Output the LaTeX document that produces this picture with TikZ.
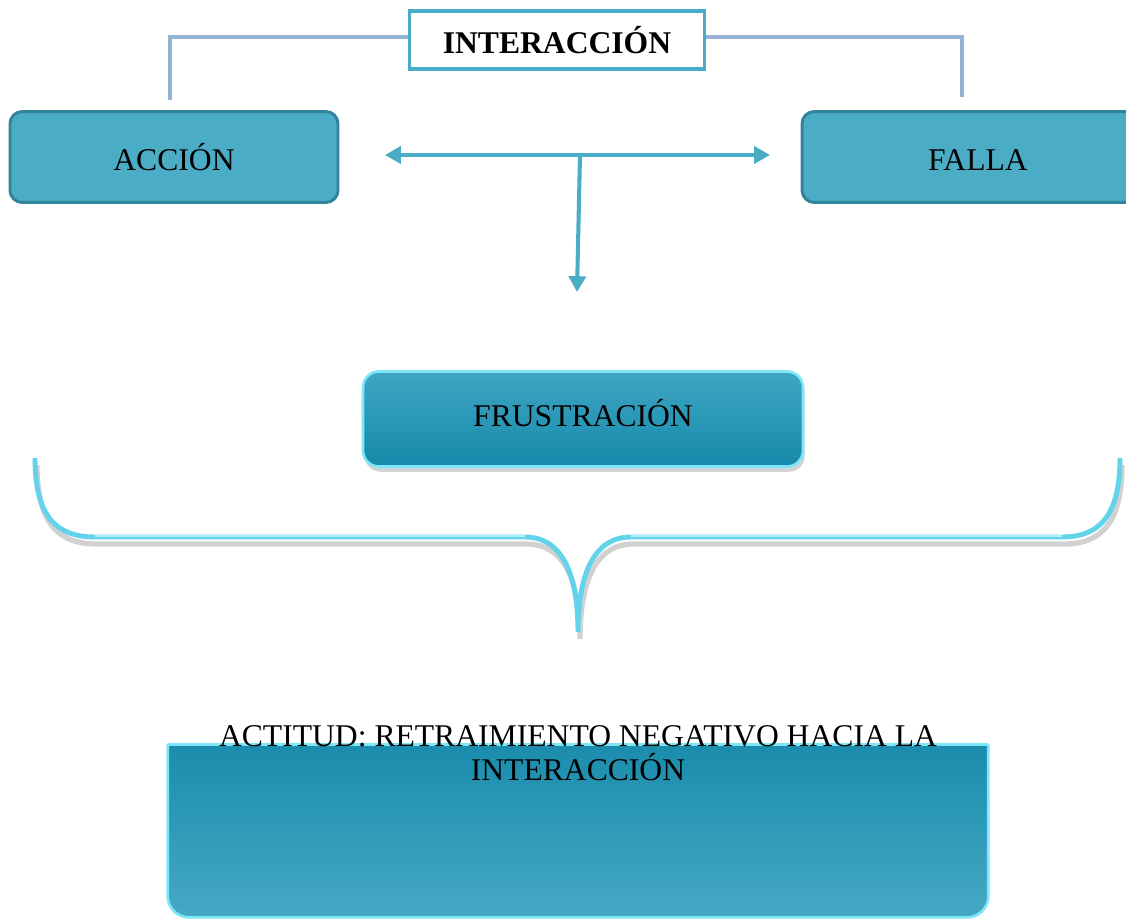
\documentclass[tikz,border=0pt]{standalone}
\usepackage{fontspec}
\setmainfont{Liberation Serif}
\usetikzlibrary{arrows.meta,positioning,shadows,calc}
\definecolor{turquesa}{HTML}{4BACC6}
\definecolor{turquesaosc}{HTML}{31849B}
\definecolor{azulgris}{HTML}{95B3D7}
\definecolor{cian}{HTML}{7DE6F8}
\definecolor{cianllave}{HTML}{62D3EA}
\definecolor{petroleo}{HTML}{1689AA}
\definecolor{petroleoclaro}{HTML}{45A9C4}
\definecolor{frusarriba}{HTML}{3FA6C3}

\begin{document}
\begin{tikzpicture}[x=0.02cm,y=-0.02cm,font=\fontsize{18}{19.5}\selectfont,
    corchete/.style={azulgris,line width=2.8pt},
    flecha/.style={turquesa,line width=2.3pt},
    punta/.tip={Triangle[length=9pt,width=9.6pt]}]
  \clip (0,0) rectangle (1126,919);
  % titulo y corchete
  \node[draw=turquesa,line width=1.9pt,fill=white,minimum width=5.9cm,minimum height=1.16cm,font=\fontsize{18}{20}\selectfont\bfseries] (inter) at (557,40) {INTERACCIÓN};
  \foreach \nom/\x/\anc/\txt in {accion/174/328/ACCIÓN, falla/978/352/FALLA}{
    \node[draw=turquesaosc,line width=1.7pt,fill=turquesa,rounded corners=7pt,minimum width=\anc*0.02cm,minimum height=1.82cm,text height=14.8pt,text depth=0pt] (\nom) at (\x,157) {\txt};
  }
  \draw[corchete] ($(inter.west)+(0,-3)$) -| ($(accion.north)+(-4,-10)$);
  \draw[corchete] ($(inter.east)+(0,-3)$) -| ($(falla.north)+(-16,-13)$);
  % flechas
  \coordinate (izq) at (385,155);
  \coordinate (der) at (770,155);
  \coordinate (cruce) at (580,155);
  \coordinate (baja) at (577,292);
  \draw[flecha,punta-punta] (izq) -- (der);
  \draw[flecha,-punta] (cruce) -- (baja);
  % frustracion
  \node[draw=cian,line width=1.5pt,rounded corners=9pt,top color=frusarriba,bottom color=petroleo,minimum width=8.8cm,minimum height=1.9cm,text height=8pt,text depth=0pt,drop shadow={shadow xshift=1pt,shadow yshift=-3pt,opacity=.35}] (frus) at (583,419) {FRUSTRACIÓN};
  % llave
  \draw[black!60,opacity=.3,line width=3pt,shift={(2,7)}] (35,458) .. controls (35,515) and (55,537) .. (95,537) -- (525,537) .. controls (560,537) and (578,570) .. (578,632) .. controls (578,570) and (596,537) .. (631,537) -- (1062,537) .. controls (1100,537) and (1120,515) .. (1120,458);
  \draw[cianllave,line width=2.8pt] (35,458) .. controls (35,515) and (55,537) .. (95,537) -- (525,537) .. controls (560,537) and (578,570) .. (578,632) .. controls (578,570) and (596,537) .. (631,537) -- (1062,537) .. controls (1100,537) and (1120,515) .. (1120,458);
  \draw[cian!60!white,line width=1pt] (95,536) -- (525,536) (631,536) -- (1062,536);
  % actitud
  \node[minimum width=16.4cm,minimum height=3.44cm] (caja) at (578,831) {};
  \begin{scope}
    \clip ($(caja.north west)+(-5,0)$) rectangle ($(caja.south east)+(5,5)$);
    \shade[top color=petroleo,bottom color=petroleoclaro,draw=cian,line width=1.5pt,rounded corners=12pt] ($(caja.north west)+(0,-20)$) rectangle (caja.south east);
  \end{scope}
  \draw[cian,line width=1.5pt] (caja.north west) -- (caja.north east);
  \node[align=center] (actitud) at (578,753) {ACTITUD: RETRAIMIENTO NEGATIVO HACIA LA\\INTERACCIÓN};
\end{tikzpicture}
\end{document}
